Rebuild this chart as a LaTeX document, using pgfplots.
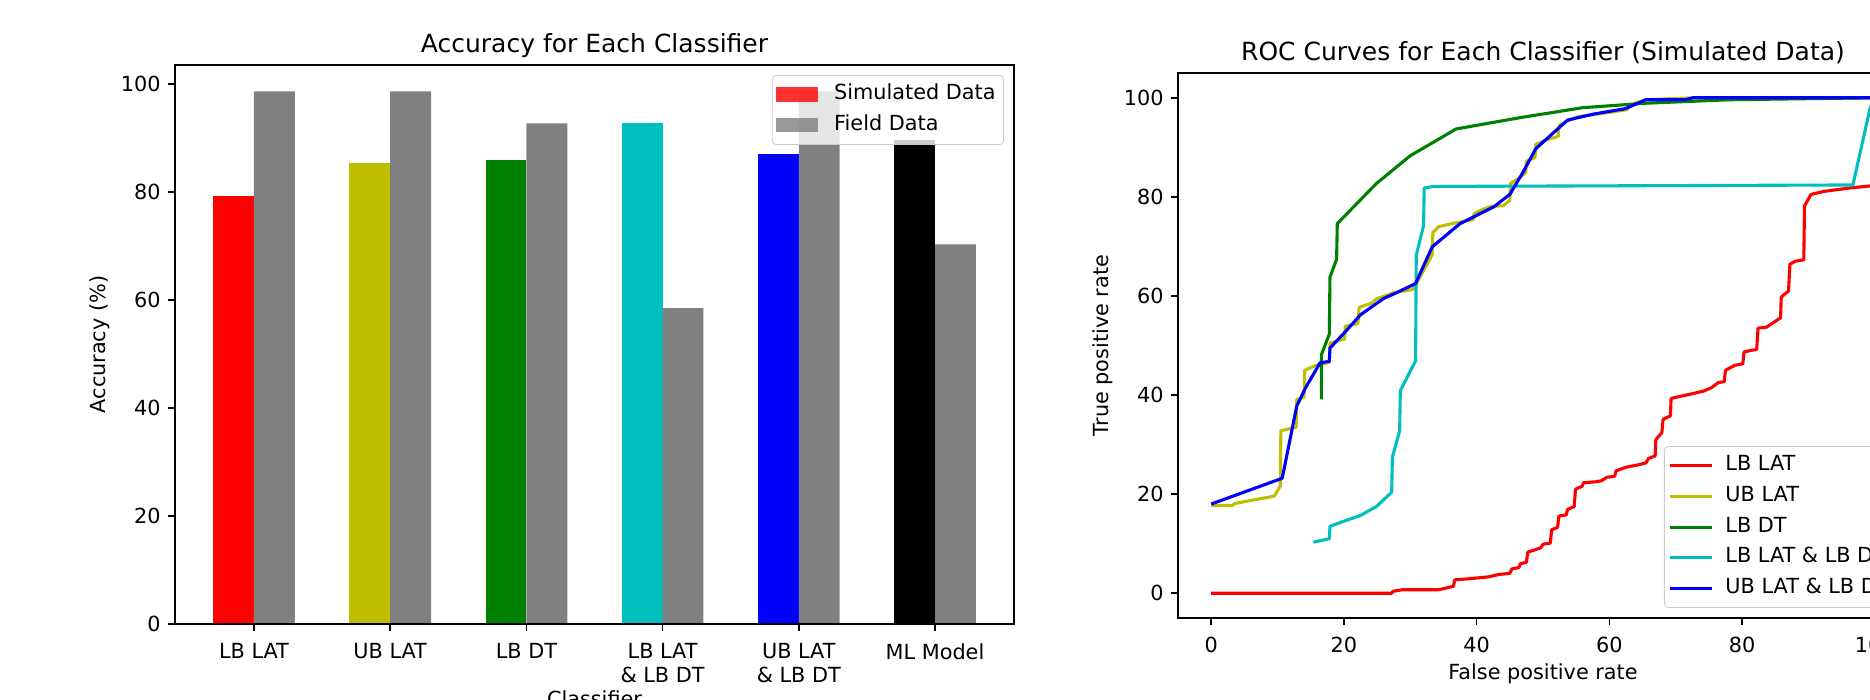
\documentclass[border=0pt]{standalone}
\usepackage{pgfplots}
\pgfplotsset{compat=1.18}
\usepackage{fontspec}
\setmainfont{DejaVu Sans}

\definecolor{mplyellow}{rgb}{0.75,0.75,0}
\definecolor{mplgreen}{rgb}{0,0.5,0}
\definecolor{mplcyan}{rgb}{0,0.75,0.75}
\definecolor{mplgray}{rgb}{0.5,0.5,0.5}

\pgfplotsset{
  mpl/.style={
    scale only axis,
    axis on top,
    axis line style={line width=0.83pt},
    every tick/.style={line width=0.83pt, black},
    major tick length=3.65pt,
    tick align=outside,
    xtick pos=bottom, ytick pos=left,
    /pgf/number format/assume math mode=true,
    tick label style={font=\fontsize{10.4}{12.2}\selectfont},
    xticklabel style={yshift=-2.5pt},
    label style={font=\fontsize{10.4}{12.5}\selectfont},
    title style={font=\fontsize{12.5}{15}\selectfont, at={(axis description cs:0.5,1)},
      anchor=base, yshift=0pt, inner sep=0pt},
    legend cell align=left,
    legend style={font=\fontsize{10.4}{12.5}\selectfont, draw=black!20, fill=white,
      fill opacity=0.8, text opacity=1, rounded corners=2pt,
      inner xsep=2pt, inner ysep=2.5pt, row sep=1pt,
      nodes={inner sep=2pt, text height=7.7pt, text depth=2.6pt}},
  },
  barleg/.style={legend image code/.code={\fill[##1, sharp corners] (0pt,-3.6pt) rectangle (20.8pt,3.6pt); \path (27pt,0pt);}},
  lineleg/.style={legend image code/.code={\draw[##1, sharp corners] (0pt,0pt) -- (20.8pt,0pt); \path (25pt,0pt);}},
}

\begin{document}
\begin{tikzpicture}
\useasboundingbox (0,0) rectangle (935pt,350pt);
\clip (0,0) rectangle (935pt,350pt);

% bar chart
\begin{axis}[mpl, barleg,
  at={(87.5pt,38pt)}, anchor=south west,
  width=419.5pt, height=279.5pt,
  xmin=-0.58, xmax=5.58, ymin=0, ymax=103.5,
  xtick={0,1,2,3,4,5},
  xticklabels={LB LAT, UB LAT, LB DT, {LB LAT\\\& LB DT}, {UB LAT\\\& LB DT}, ML Model},
  xticklabel style={align=center},
  ytick={0,20,40,60,80,100},
  title={Accuracy for Each Classifier},
  xlabel={Classifier},
  ylabel={Accuracy (\%)},
  xlabel style={at={(axis description cs:0.5,-0.148)}, anchor=base},
  ylabel style={at={(axis description cs:-0.0894,0.5)}, anchor=center},
  legend style={at={(axis description cs:1,1)}, anchor=north east, xshift=-5pt, yshift=-5pt},
]
\addplot[ybar, bar width=0.3, bar shift=-0.15, fill=red, draw=none] coordinates {(0,79.3)};
\addlegendentry{Simulated Data}
\addplot[ybar, bar width=0.3, bar shift=-0.15, fill=mplyellow, draw=none, forget plot] coordinates {(1,85.4)};
\addplot[ybar, bar width=0.3, bar shift=-0.15, fill=mplgreen, draw=none, forget plot] coordinates {(2,86.0)};
\addplot[ybar, bar width=0.3, bar shift=-0.15, fill=mplcyan, draw=none, forget plot] coordinates {(3,92.7)};
\addplot[ybar, bar width=0.3, bar shift=-0.15, fill=blue, draw=none, forget plot] coordinates {(4,87.1)};
\addplot[ybar, bar width=0.3, bar shift=-0.15, fill=black, draw=none, forget plot] coordinates {(5,89.6)};
\addplot[ybar, bar width=0.3, bar shift=0.15, fill=mplgray, draw=none]
  coordinates {(0,98.6) (1,98.6) (2,92.7) (3,58.5) (4,98.6) (5,70.3)};
\addlegendentry{Field Data}
\end{axis}

% ROC curves
\begin{axis}[mpl, lineleg,
  at={(589pt,41pt)}, anchor=south west,
  width=365pt, height=272.5pt,
  xmin=-5, xmax=105, ymin=-5, ymax=105,
  xtick={0,20,40,60,80,100}, ytick={0,20,40,60,80,100},
  title={ROC Curves for Each Classifier (Simulated Data)},
  xlabel={False positive rate},
  ylabel={True positive rate},
  xlabel style={at={(axis description cs:0.5,-0.113)}, anchor=base},
  ylabel style={at={(axis description cs:-0.1027,0.5)}, anchor=center},
  legend style={at={(axis description cs:1,0)}, anchor=south east, xshift=-5pt, yshift=5pt},
  every axis plot/.append style={line width=1.55pt, line join=round},
]
\addplot[red] coordinates {
(0,0) (27.2,0) (27.4,0.4) (28.8,0.7) (34.3,0.7) (36.5,1.4) (36.7,2.7) (38.7,2.9)
(41.8,3.3) (43.4,3.8) (45,4) (45.3,4.9) (46.4,5.2) (46.6,6) (47.5,6.2) (47.7,8.3)
(48.9,8.8) (49.7,9.2) (50,9.9) (51.1,10.1) (51.3,12.8) (52.2,13.3) (52.4,15.6)
(53.5,15.8) (53.7,16.9) (54.7,17.5) (54.9,21) (55.9,21.6) (56.1,22.3) (58,22.5)
(58.8,22.7) (59.6,23.4) (60.8,23.6) (61,24.7) (62.4,25.4) (64.3,25.9) (65.5,26.3)
(65.9,27.2) (66.9,27.7) (67,31) (67.9,32.4) (68.1,35.1) (69.2,35.8) (69.3,39.3)
(70.2,39.6) (72.6,40.3) (74.2,40.8) (75.4,41.5) (76.4,42.5) (77.3,42.7) (77.5,45)
(78.9,46) (80.1,46.3) (80.3,48.7) (81.3,49) (82.2,49.2) (82.4,53.5) (83.7,53.7)
(84.8,54.7) (85.8,55.6) (85.9,59.8) (87,61) (87.2,66.4) (88,67) (89.3,67.3)
(89.4,78.2) (90.4,80.5) (92.3,81.1) (96.3,81.8) (99.3,82.2) (99.8,82.3) (100,100)
};
\addlegendentry{LB LAT}
\addplot[mplyellow] coordinates {
(0,17.7) (3.2,17.7) (3.5,18.1) (9.5,19.6) (10.4,21.6) (10.5,32.8) (12.8,33.5)
(12.9,39.1) (14,39.6) (14.1,45) (15.8,46) (17.8,46.6) (17.9,50.5) (20.1,51.3)
(20.2,53.9) (22.1,54.4) (22.3,57.7) (24.1,58.5) (24.9,59.4) (27.6,60.7) (30.4,61.3)
(30.8,62.2) (32.2,65.6) (33.3,68.3) (33.4,72.8) (34.3,74) (36.3,74.6) (39.5,75.4)
(39.6,76.6) (40.6,77.3) (42.2,78.1) (44,78.2) (45,79.3) (45.1,82.7) (46.2,83.6)
(47.4,84.9) (47.5,87.2) (48.8,87.9) (48.9,90.6) (50.5,91.5) (52.3,92.2) (52.4,94.4)
(53.7,95.3) (55.3,96.2) (59.2,96.9) (62.7,97.6) (63,98.5) (65.5,99.6) (72.6,100)
(100,100)
};
\addlegendentry{UB LAT}
\addplot[mplgreen] coordinates {
(16.6,39.1) (16.6,48.1) (17.8,52.3) (17.9,63.8) (18.9,67.4) (19,74.6) (24.9,82.7)
(30,88.3) (36.9,93.7) (46.6,96) (56,98) (65.5,98.9) (78.1,99.6) (100,100)
};
\addlegendentry{LB DT}
\addplot[mplcyan] coordinates {
(15.4,10.3) (17.8,11) (17.9,13.5) (19.7,14.4) (22.5,15.7) (24.9,17.5) (27.2,20.4)
(27.3,27.4) (28.4,32.8) (28.5,40.9) (30.8,46.9) (30.9,68.2) (32,74.2) (32.1,81.8)
(33.5,82.1) (96.7,82.4) (99.3,98) (100,100)
};
\addlegendentry{LB LAT \& LB DT}
\addplot[blue] coordinates {
(0,18) (10.7,23.2) (12.9,37.8) (14.2,41.4) (16.4,46.5) (17.8,46.8) (17.9,49.5)
(20.1,52.6) (22.5,56.2) (26,59.5) (28,60.7) (30.8,62.5) (33.3,69.9) (37.5,74.6)
(42.6,78) (45,80.5) (47,85) (48.9,89.7) (53.7,95.5) (57.6,96.7) (62.4,97.8)
(65.5,99.6) (71.4,99.6) (72.6,100) (100,100)
};
\addlegendentry{UB LAT \& LB DT}
\end{axis}
\end{tikzpicture}
\end{document}
